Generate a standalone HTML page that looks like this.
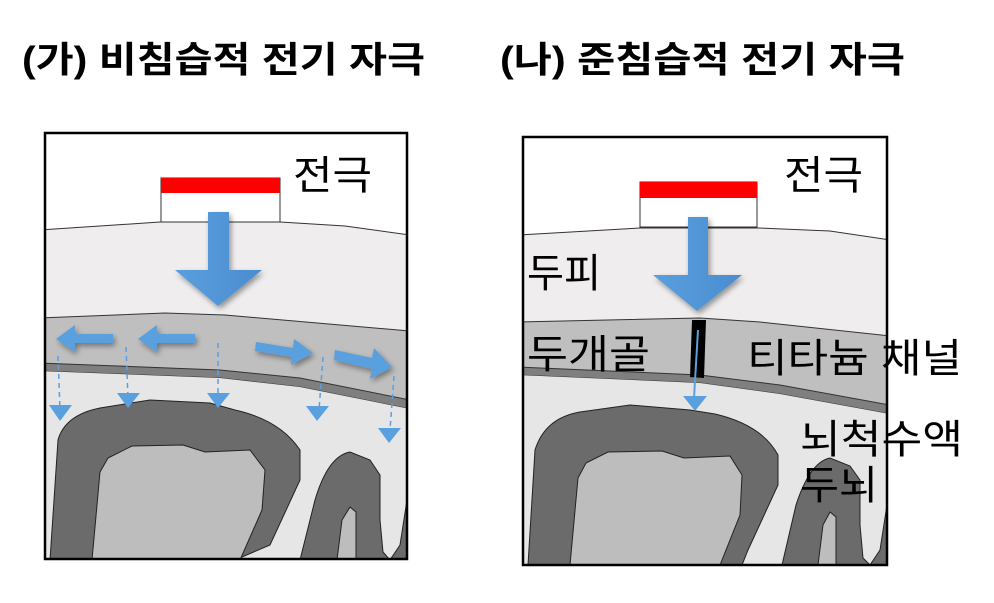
<!DOCTYPE html>
<html><head><meta charset="utf-8"><style>
html,body{margin:0;padding:0;background:#fff;}
svg{display:block;}
text{font-family:"Liberation Sans","Noto Sans CJK KR",sans-serif;fill:#000;}
</style></head><body>
<svg width="994" height="603" viewBox="0 0 994 603" xmlns="http://www.w3.org/2000/svg">
<defs>
<linearGradient id="ag" x1="0" x2="1" y1="0" y2="0"><stop offset="0" stop-color="#5a9fde"/><stop offset="1" stop-color="#4a8dd0"/></linearGradient>
<filter id="sh" x="-30%" y="-30%" width="160%" height="160%"><feGaussianBlur in="SourceAlpha" stdDeviation="3"/><feOffset dx="2" dy="3"/><feComponentTransfer><feFuncA type="linear" slope="0.4"/></feComponentTransfer><feMerge><feMergeNode/><feMergeNode in="SourceGraphic"/></feMerge></filter>
<clipPath id="c1"><rect x="45" y="133" width="362" height="426"/></clipPath>
<clipPath id="c2"><rect x="523" y="137" width="364" height="428"/></clipPath>
</defs>

<text x="22" y="72" font-size="36" font-weight="bold" textLength="403" lengthAdjust="spacingAndGlyphs">(가) 비침습적 전기 자극</text>
<text x="500" y="72" font-size="36" font-weight="bold" textLength="405" lengthAdjust="spacingAndGlyphs">(나) 준침습적 전기 자극</text>

<!-- LEFT PANEL -->
<g clip-path="url(#c1)">
<rect x="45" y="133" width="362" height="426" fill="#fff"/>
<path d="M40,230 L160,222 L280,222 L345,226 L410,235 L410,560 L40,560 Z" fill="#efedee" stroke="#333" stroke-width="1"/>
<path d="M40,318 L165,313 L225,315 L410,331 L410,560 L40,560 Z" fill="#bfbfbf" stroke="#333" stroke-width="1"/>
<path d="M40,363 L220,370 L300,378 L410,400 L410,409 L300,387 L220,378 L40,371 Z" fill="#7f7f7f" stroke="#333" stroke-width="1"/>
<path d="M40,371 L220,378 L300,387 L410,409 L410,560 L40,560 Z" fill="#e6e6e6"/>
<path d="M50,560 L58,440 Q65,415 100,408 L150,400 L210,403 L235,410 Q280,420 300,450 L300,480 L270,545 L235,560 Z" fill="#6b6b6b" stroke="#222" stroke-width="1"/>
<path d="M92,560 L100,472 L108,458 L132,446 L183,445 L205,452 L250,450 L265,470 L262,510 L240,560 Z" fill="#bdbdbd" stroke="#222" stroke-width="1"/>
<path d="M300,560 L315,500 Q328,456 350,452 L370,460 L380,475 L380,520 L383,552 L390,560 L400,545 L407,500 L407,560 Z" fill="#6b6b6b" stroke="#222" stroke-width="1"/>
<path d="M337,560 L342,520 L350,507 L356,512 L356,560 Z" fill="#bdbdbd" stroke="#222" stroke-width="1"/>
<rect x="161" y="178" width="119" height="44" fill="#fff" stroke="#333"/>
<rect x="161" y="178" width="119" height="15" fill="#ff0000"/>
<g filter="url(#sh)">
<path d="M208,212 L229,212 L229,270 L262,270 L218,306 L175,270 L208,270 Z" fill="url(#ag)"/>
<path d="M113,334 L75,334 L75,325 L56,339 L75,352 L75,343 L113,343 Z" fill="#5a9fde"/>
<path d="M195,334 L157,334 L157,325 L138,339 L157,352 L157,343 L195,343 Z" fill="#5a9fde"/>
<path d="M256,342 L293,348 L294,339 L313,353 L291,365 L292,357 L255,351 Z" fill="#5a9fde"/>
<path d="M335,350 L372,358 L374,348 L392,367 L370,379 L372,369 L334,360 Z" fill="#5a9fde"/>
</g>
<g stroke="#5a9fde" stroke-width="1.5" stroke-dasharray="5,4" fill="none">
<line x1="58" y1="356" x2="60" y2="410"/>
<line x1="126" y1="347" x2="128" y2="398"/>
<line x1="218" y1="343" x2="218" y2="398"/>
<line x1="323" y1="357" x2="319" y2="410"/>
<line x1="394" y1="376" x2="390" y2="430"/>
</g>
<g fill="#5a9fde">
<path d="M49,405 L72,405 L60,421 Z"/>
<path d="M117,393 L140,393 L128,408 Z"/>
<path d="M207,393 L230,393 L218,408 Z"/>
<path d="M306,406 L329,406 L317,421 Z"/>
<path d="M378,428 L401,428 L389,443 Z"/>
</g>
</g>
<text x="293" y="189" font-size="40" textLength="79" lengthAdjust="spacingAndGlyphs">전극</text>
<rect x="45" y="133" width="362" height="426" fill="none" stroke="#000" stroke-width="2.5"/>

<!-- RIGHT PANEL -->
<g clip-path="url(#c2)">
<rect x="523" y="137" width="364" height="428" fill="#fff"/>
<path d="M518,235 L640,228 L760,228 L830,231 L890,240 L890,565 L518,565 Z" fill="#efedee" stroke="#333" stroke-width="1"/>
<path d="M518,322 L700,318 L760,322 L890,336 L890,565 L518,565 Z" fill="#bfbfbf" stroke="#333" stroke-width="1"/>
<path d="M518,367 L700,375 L780,385 L890,405 L890,414 L780,394 L700,383 L518,375 Z" fill="#7f7f7f" stroke="#333" stroke-width="1"/>
<path d="M518,375 L700,383 L780,394 L890,414 L890,565 L518,565 Z" fill="#e6e6e6"/>
<path d="M528,565 L535,450 Q545,418 580,412 L630,405 L690,410 L715,414 Q762,425 778,455 L778,485 L748,550 L742,565 Z" fill="#6b6b6b" stroke="#222" stroke-width="1"/>
<path d="M570,565 L578,478 L586,463 L608,452 L662,451 L684,458 L730,456 L742,475 L740,515 L720,565 Z" fill="#bdbdbd" stroke="#222" stroke-width="1"/>
<path d="M782,565 L796,505 Q810,462 830,458 L850,466 L860,480 L860,525 L863,558 L870,565 L880,550 L887,505 L887,565 Z" fill="#6b6b6b" stroke="#222" stroke-width="1"/>
<path d="M818,565 L823,525 L830,512 L836,517 L836,565 Z" fill="#bdbdbd" stroke="#222" stroke-width="1"/>
<rect x="640" y="182" width="117" height="45" fill="#fff" stroke="#333"/>
<rect x="640" y="182" width="117" height="16" fill="#ff0000"/>
<path d="M692,320 L706,320 L704,378 L690,377 Z" fill="#000"/>
<g filter="url(#sh)">
<path d="M688,217 L708,217 L708,275 L742,275 L697,311 L653,275 L688,275 Z" fill="url(#ag)"/>
</g>
<line x1="698" y1="330" x2="694" y2="398" stroke="#5a9fde" stroke-width="2"/>
<path d="M683,396 L707,396 L695,411 Z" fill="#5a9fde"/>
</g>
<text x="784" y="189" font-size="40" textLength="79" lengthAdjust="spacingAndGlyphs">전극</text>
<text x="527" y="287" font-size="40" textLength="74" lengthAdjust="spacingAndGlyphs">두피</text>
<text x="527" y="368" font-size="40" textLength="123" lengthAdjust="spacingAndGlyphs">두개골</text>
<text x="747" y="372" font-size="40" textLength="215" lengthAdjust="spacingAndGlyphs">티타늄 채널</text>
<text x="800" y="453" font-size="40" textLength="163" lengthAdjust="spacingAndGlyphs">뇌척수액</text>
<text x="800" y="499" font-size="40" textLength="78" lengthAdjust="spacingAndGlyphs">두뇌</text>
<rect x="523" y="137" width="364" height="428" fill="none" stroke="#000" stroke-width="2.5"/>
</svg>
</body></html>
